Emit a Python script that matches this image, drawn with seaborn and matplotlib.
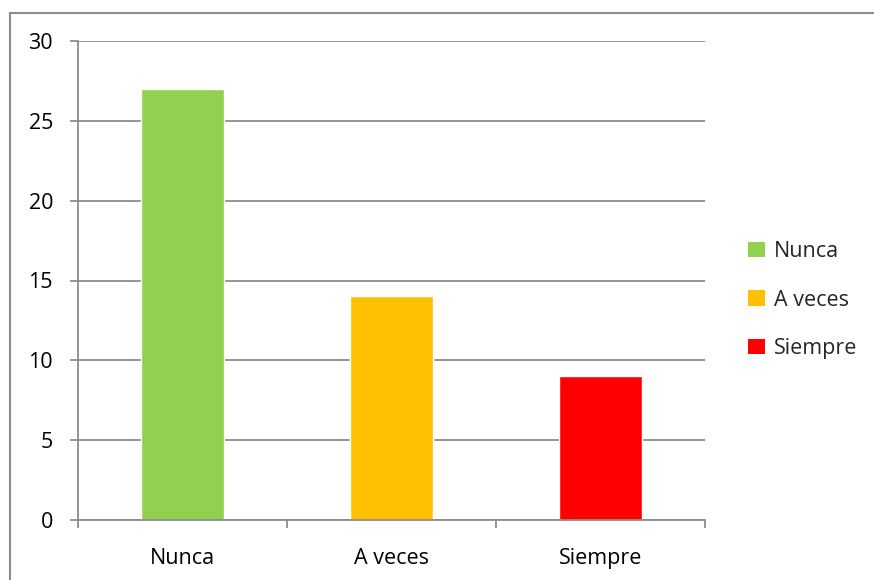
import matplotlib
matplotlib.use("Agg")
import matplotlib.pyplot as plt
import seaborn as sns
import pandas as pd
from matplotlib.patches import Rectangle, Patch

categories = ["Nunca", "A veces", "Siempre"]
values = [27, 14, 9]
colors = ["#92D050", "#FFC000", "#FF0000"]
yticks = [0, 5, 10, 15, 20, 25, 30]

sns.set_style("white")
plt.rcParams['font.family'] = ['Open Sans', 'DejaVu Sans']
FS = 15.5

df = pd.DataFrame({"cat": categories, "val": values})

fig = plt.figure(figsize=(8.74, 5.8), dpi=100)
ax = fig.add_axes([78/874, 60/580, (705-78)/874, (520-41)/580])

sns.barplot(data=df, x="cat", y="val", hue="cat", palette=colors,
            width=0.4, ax=ax, legend=False, saturation=1)

grid_c = "#8C8C8C"
ax.set_xlim(-0.5, 2.5)
ax.set_ylim(0, 30)
ax.set_yticks(yticks)
ax.set_yticklabels([str(t) for t in yticks])
ax.yaxis.grid(True, color=grid_c, linewidth=1.3)
ax.set_axisbelow(True)
for s in ["top", "right"]:
    ax.spines[s].set_visible(False)
for s in ["left", "bottom"]:
    ax.spines[s].set_color(grid_c)
    ax.spines[s].set_linewidth(1.3)
ax.set_xlabel("")
ax.set_ylabel("")

ax.tick_params(axis="y", length=6, width=1.3, color=grid_c, pad=12,
               labelsize=FS, labelcolor="black", left=True)
ax.set_xticks([-0.5, 0.5, 1.5, 2.5], minor=True)
ax.tick_params(axis="x", which="minor", length=6, width=1.3, color=grid_c, bottom=True, direction="out")
ax.tick_params(axis="x", which="major", length=0, pad=20, labelsize=FS, labelcolor="black")

handles = [Patch(facecolor=c, edgecolor="none") for c in colors]
fig.legend(handles, categories, loc="center left",
           bbox_to_anchor=(729/874, 1 - 300/580), frameon=False,
           handlelength=0.75, handleheight=0.75, handletextpad=0.45,
           labelspacing=1.28, fontsize=FS)

fig.patches.append(Rectangle((10/874, -0.05), 1.0, 1 - 13/580 + 0.05,
                             transform=fig.transFigure, fill=False,
                             edgecolor="#8C8C8C", linewidth=1.5, clip_on=False))

fig.savefig("out.png", dpi=100)
